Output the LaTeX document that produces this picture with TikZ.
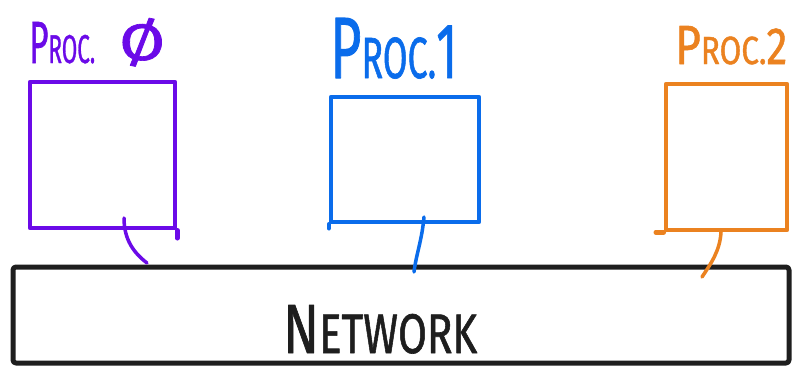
\documentclass[tikz,border=0pt]{standalone}
\usepackage{fontspec}
\usepackage{graphicx}
\setmainfont{Fira Sans}[FakeBold=1.2]
\definecolor{pviolet}{HTML}{6B0AE8}
\definecolor{pblue}{HTML}{0A6CEB}
\definecolor{porange}{HTML}{EB8220}
\definecolor{ink}{HTML}{1E1E1E}
\begin{document}
\begin{tikzpicture}[x=1pt,y=-1pt,line cap=round,line join=round,
  procbox/.style={draw,line width=4.5pt,inner sep=0pt},
  netbox/.style={draw=ink,line width=5pt,rounded corners=3pt,inner sep=0pt},
  lbl/.style={anchor=base west,inner sep=0pt},
  wire/.style={line width=3.5pt}]
\useasboundingbox[fill=white] (0,0) rectangle (794,367);
% network
\node[netbox,minimum width=776pt,minimum height=96pt] (net) at (401,315) {};
\node[lbl,text=ink] (netlabel) at (283,353) {\resizebox{194pt}{48pt}{\fontsize{55}{55}\selectfont N\fontsize{44}{44}\selectfont ETWORK}};
% processors
\node[procbox,draw=pviolet,minimum width=145pt,minimum height=146pt] (p0) at (102.5,155) {};
\node[procbox,draw=pblue,minimum width=148pt,minimum height=125pt] (p1) at (405,159.5) {};
\node[procbox,draw=porange,minimum width=121pt,minimum height=146pt] (p2) at (726.5,157) {};
\draw[pviolet,line width=4.5pt] (p0.south east) -- ++(0,8);
\draw[pblue,line width=4.5pt] (p1.south west) -- ++(0,4);
\draw[porange,line width=4.5pt] (p2.south west) -- ++(-8,0);
% labels
\node[lbl,text=pviolet] (l0) at (29,63) {\resizebox{66pt}{41pt}{\fontsize{40}{40}\selectfont P\fontsize{27}{27}\selectfont ROC.}};
\node[lbl,text=pviolet] (z0) at (119,60) {\resizebox{46pt}{42pt}{\fontsize{50}{50}\selectfont Ø}};
\node[lbl,text=pblue] (l1) at (330,78) {\resizebox{127pt}{60pt}{\fontsize{60}{60}\selectfont P\fontsize{40}{40}\selectfont ROC.\fontsize{54}{54}\selectfont 1}};
\node[lbl,text=porange] (l2) at (675,64) {\resizebox{112pt}{38pt}{\fontsize{38}{38}\selectfont P\fontsize{27}{27}\selectfont ROC.\fontsize{36}{36}\selectfont 2}};
% connectors
\coordinate (s0) at (124,218);
\coordinate (e0) at (147,263);
\coordinate (s1) at (424,217);
\coordinate (e1) at (414,272);
\coordinate (s2) at (721,232);
\coordinate (e2) at (702,277);
\draw[wire,pviolet] (s0) .. controls (124,240) and (134,253) .. (e0);
\draw[wire,pblue] (s1) .. controls (422,240) and (416,255) .. (e1);
\draw[wire,porange] (s2) .. controls (720,250) and (712,262) .. (e2);
\end{tikzpicture}
\end{document}
